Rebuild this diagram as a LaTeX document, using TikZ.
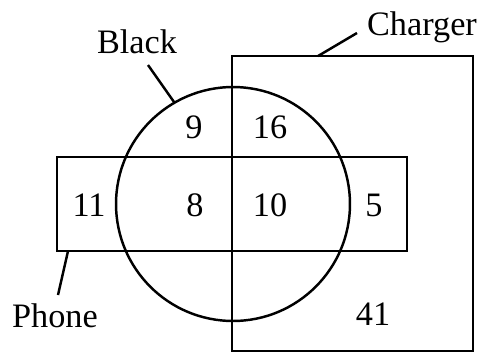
\documentclass[tikz,border=0pt]{standalone}
\usepackage{fontspec}
\setmainfont{Liberation Serif}
\usetikzlibrary{calc}
\tikzset{
	setbox/.style={draw=black, line width=1.4pt, inner sep=0pt, outer sep=0pt},
	lbl/.style={anchor=base, inner sep=0pt},
	leader/.style={draw=black, line width=1.4pt},
}

\begin{document}
\begin{tikzpicture}[x=0.02cm, y=-0.02cm, font=\fontsize{19.5}{21}\selectfont]
	\useasboundingbox (0,0) rectangle (481,353);
	% the three sets
	\node[setbox, minimum width=4.82cm, minimum height=5.9cm] (charger) at (352.5,203.5) {};
	\node[setbox, minimum width=7cm, minimum height=1.88cm] (phone) at (232,204) {};
	\node[setbox, circle, minimum size=4.68cm] (black) at (233,204) {};
	% set names and leaders
	\node[lbl] (lblack) at (137,53) {Black};
	\node[lbl] (lcharger) at (422,35) {Charger};
	\node[lbl] (lphone) at (55,327) {Phone};
	\coordinate (tblack) at (148,65);
	\coordinate (tcharger) at (357,33);
	\coordinate (tphone) at (58,295);
	\draw[leader] (tblack) -- (black.120);
	\draw[leader] (tcharger) -- ($(charger.north west)+(86,0)$);
	\draw[leader] (tphone) -- ($(phone.south west)+(11,0)$);
	% region counts
	\node[lbl] (n9) at (194,138) {9};
	\node[lbl] (n16) at (270,138) {16};
	\node[lbl] (n11) at (89,216) {11};
	\node[lbl] (n8) at (195,216) {8};
	\node[lbl] (n10) at (270,216) {10};
	\node[lbl] (n5) at (374,216) {5};
	\node[lbl] (n41) at (373,325) {41};
\end{tikzpicture}
\end{document}
